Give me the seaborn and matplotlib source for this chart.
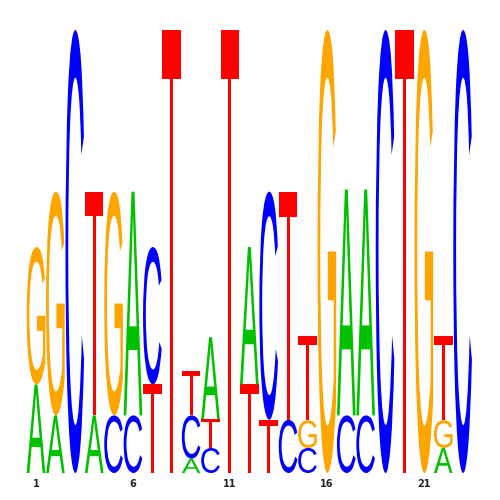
import numpy as np
import pandas as pd
import matplotlib
matplotlib.use("Agg")
import matplotlib.pyplot as plt
import seaborn as sns
from matplotlib.textpath import TextPath
from matplotlib.font_manager import FontProperties
from matplotlib.patches import PathPatch
from matplotlib.transforms import Affine2D


# letter heights (bits) per position
positions = list(range(1, 24))
A_bits = [0.40, 0.26, 0.00, 0.26, 0.00, 1.01, 0.00, 0.00, 0.065, 0.37, 0.00, 0.62,
          0.00, 0.00, 0.00, 0.00, 1.02, 1.02, 0.00, 0.00, 0.00, 0.113, 0.00]
C_bits = [0.00, 0.00, 2.00, 0.00, 0.26, 0.26, 0.62, 0.00, 0.195, 0.113, 0.00, 0.00,
          1.03, 0.24, 0.113, 0.00, 0.26, 0.26, 2.00, 0.00, 0.00, 0.00, 2.00]
G_bits = [0.62, 1.01, 0.00, 0.00, 1.01, 0.00, 0.00, 0.00, 0.00, 0.00, 0.00, 0.00,
          0.00, 0.00, 0.125, 2.00, 0.00, 0.00, 0.00, 0.00, 2.00, 0.125, 0.00]
T_bits = [0.00, 0.00, 0.00, 1.01, 0.00, 0.00, 0.40, 2.00, 0.20, 0.13, 2.00, 0.40,
          0.24, 1.03, 0.38, 0.00, 0.00, 0.00, 0.00, 2.00, 0.00, 0.38, 0.00]
tick_positions = [1, 6, 11, 16, 21]

letter_colors = {"A": "#00c000", "C": "#0000ff", "G": "#ffa500", "T": "#ff0000"}

df = pd.DataFrame({"A": A_bits, "C": C_bits, "G": G_bits, "T": T_bits}, index=positions)

sns.set_style("white")
font = FontProperties(family="Liberation Sans")


def draw_letter(ax, letter, x, bottom, height, width=0.96):
    path = TextPath((0, 0), letter, size=1, prop=font)
    ext = path.get_extents()
    tr = (Affine2D()
          .translate(-ext.x0, -ext.y0)
          .scale(width / ext.width, height / ext.height)
          .translate(x - width / 2, bottom))
    patch = PathPatch(tr.transform_path(path), facecolor=letter_colors[letter],
                      edgecolor="none", linewidth=0)
    ax.add_patch(patch)


fig = plt.figure(figsize=(5, 5), dpi=100)
ax = fig.add_axes([0.0526, 0.054, 0.892, 0.886])

for pos, row in df.iterrows():
    bottom = 0.0
    # smallest letters at the bottom
    for letter, h in sorted(row.items(), key=lambda kv: kv[1]):
        if h <= 0:
            continue
        draw_letter(ax, letter, pos, bottom, h)
        bottom += h

ax.set_xlim(0.5, 23.5)
ax.set_ylim(0, 2)
ax.set_xticks(tick_positions)
ax.set_xticklabels([str(t) for t in tick_positions], fontsize=7, fontweight="bold")
ax.tick_params(axis="x", length=0, pad=4)
ax.set_yticks([])
sns.despine(ax=ax, left=True, bottom=True)

fig.savefig("out.png", dpi=100)
